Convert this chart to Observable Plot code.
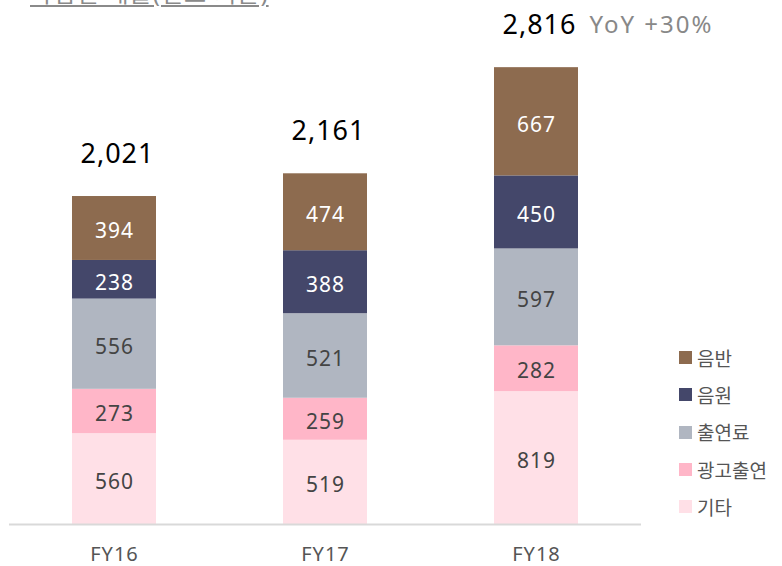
<!DOCTYPE html>
<html>
<head>
<meta charset="utf-8">
<script src="https://cdn.jsdelivr.net/npm/d3@7"></script>
<script src="https://cdn.jsdelivr.net/npm/@observablehq/plot@0.6"></script>
<style>
  body { margin: 0; background: #fff; font-family: "Noto Sans", "Noto Sans CJK KR", sans-serif; }
  #wrap { position: relative; width: 782px; height: 566px; overflow: hidden; }
  #title { position: absolute; left: 30px; top: -26px; font-size: 24px; letter-spacing: 1px; color: #8a8a8a; text-decoration: underline; text-underline-offset: 3px; white-space: nowrap; }
  #legend { position: absolute; left: 679px; top: 339px; font-size: 19px; color: #555; }
  #legend .row { display: flex; align-items: center; height: 37.3px; }
  #legend .sw { width: 13px; height: 13px; margin-right: 5px; }
  #chart { position: absolute; left: 0; top: 0; }
  #chart .seg text, #chart text.seg, #chart .seg { letter-spacing: 1px; }
  #chart .tot, #chart .tot text { letter-spacing: 1px; }
  #chart .yoy, #chart .yoy text { letter-spacing: 2px; }
</style>
</head>
<body>
<div id="wrap">
  <div id="chart"></div>
  <div id="title">사업별 매출(별도 기준)</div>
  <div id="legend"></div>
</div>
<script>
const years = ["FY16", "FY17", "FY18"];
const categories = ["기타", "광고출연", "출연료", "음원", "음반"]; // bottom to top
const colors = ["#ffe0e7", "#ffb6c8", "#b0b6c1", "#44476a", "#8d6b4f"];
const etc = [560, 519, 819];
const adAppear = [273, 259, 282];
const appearFee = [556, 521, 597];
const digital = [238, 388, 450];
const album = [394, 474, 667];
const totals = [2021, 2161, 2816];
const yoyLabel = "YoY +30%";

const series = [etc, adAppear, appearFee, digital, album];
const data = [];
years.forEach((yr, i) => {
  categories.forEach((c, j) => data.push({year: yr, cat: c, value: series[j][i]}));
});
const totalData = years.map((yr, i) => ({year: yr, total: totals[i]}));
const whiteCats = new Set(["음원", "음반"]);
const fmt = d3.format(",");

const chart = Plot.plot({
  width: 782,
  height: 566,
  marginLeft: 9,
  marginRight: 141,
  marginTop: 0,
  marginBottom: 42,
  style: { fontFamily: '"Noto Sans", "Noto Sans CJK KR", sans-serif', background: "transparent" },
  x: { domain: years, paddingInner: 0.602, paddingOuter: 0.2986, label: null },
  y: { domain: [0, 2816], range: [524, 67], axis: null },
  color: { domain: categories, range: colors },
  marks: [
    Plot.barY(data, { x: "year", y: "value", fill: "cat", order: categories }),
    Plot.ruleY([0], { stroke: "#d9d9d9", strokeWidth: 2 }),
    Plot.text(data, Plot.stackY({ x: "year", y: "value", z: "cat", order: categories, text: d => whiteCats.has(d.cat) ? String(d.value) : "", fill: "#ffffff", fontSize: 21, dy: 3, className: "seg" })),
    Plot.text(data, Plot.stackY({ x: "year", y: "value", z: "cat", order: categories, text: d => whiteCats.has(d.cat) ? "" : String(d.value), fill: "#444444", fontSize: 21, dy: 3, className: "seg" })),
    Plot.text(totalData, { x: "year", y: "total", text: d => fmt(d.total), dy: -42, dx: 3, fill: "#000", fontSize: 27, className: "tot" }),
    Plot.text(totalData.filter(d => d.year === "FY18"), { x: "year", y: "total", text: () => yoyLabel, dy: -42, dx: 53, textAnchor: "start", fill: "#888", fontSize: 24, className: "yoy" }),
    Plot.axisX({ tickSize: 0, tickPadding: 22, fontSize: 20, color: "#555", label: null, className: "seg" })
  ]
});
document.getElementById("chart").appendChild(chart);

const legend = document.getElementById("legend");
[...categories].reverse().forEach(c => {
  const row = document.createElement("div");
  row.className = "row";
  const sw = document.createElement("div");
  sw.className = "sw";
  sw.style.background = colors[categories.indexOf(c)];
  const t = document.createElement("span");
  t.textContent = c;
  row.appendChild(sw); row.appendChild(t);
  legend.appendChild(row);
});
</script>
</body>
</html>
